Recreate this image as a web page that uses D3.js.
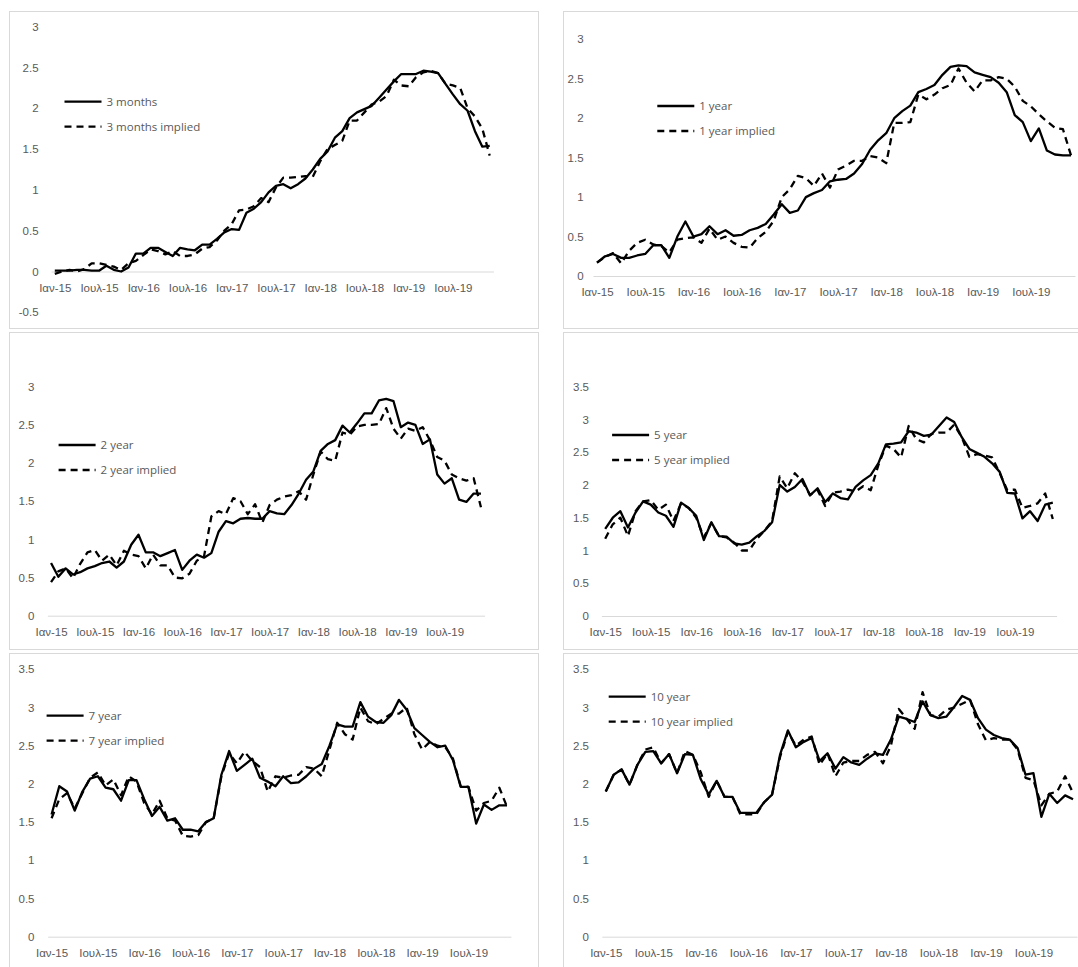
<!DOCTYPE html>
<meta charset="utf-8">
<style>
body {
  background: #fff;
  margin: 0;
  padding: 0;
}
svg {
  display: block;
  font-family: 'Open Sans', sans-serif;
}
.frame {
  fill: #fff;
  stroke: #d9d9d9;
  stroke-width: 1px;
}
.axis text, .legend text {
  fill: #595959;
  font-size: 11.5px;
}
.axis .domain {
  stroke: #d9d9d9;
  stroke-width: 1px;
}
.series {
  fill: none;
  stroke: #000;
  stroke-width: 2.3px;
  stroke-linejoin: round;
}
.implied {
  stroke-dasharray: 7,5;
}
</style>
<body>
<script src="https://d3js.org/d3.v7.min.js"></script>
<script>
// monthly observations, Jan 2015 .. Dec 2019
var xTickLabels = ["Ιαν-15", "Ιουλ-15", "Ιαν-16", "Ιουλ-16", "Ιαν-17",
                   "Ιουλ-17", "Ιαν-18", "Ιουλ-18", "Ιαν-19", "Ιουλ-19"];

var m3 = [0.01,0.01,0.01,0.02,0.02,0.01,0.01,0.07,0.02,0.00,
  0.05,0.22,0.22,0.29,0.29,0.24,0.19,0.29,0.27,0.26,
  0.33,0.33,0.40,0.48,0.52,0.51,0.72,0.77,0.85,0.97,
  1.05,1.07,1.02,1.07,1.14,1.25,1.38,1.47,1.64,1.72,
  1.88,1.95,1.99,2.03,2.13,2.23,2.33,2.42,2.42,2.42,
  2.46,2.45,2.43,2.30,2.17,2.05,1.97,1.72,1.53,1.54];
var m3Implied = [-0.03,0.00,0.02,0.00,0.03,0.10,0.10,0.08,0.06,0.02,
  0.10,0.13,0.20,0.27,0.25,0.21,0.25,0.19,0.19,0.21,
  0.28,0.30,0.38,0.50,0.58,0.75,0.76,0.80,0.90,0.85,
  1.03,1.15,1.15,1.16,1.17,1.16,1.35,1.50,1.55,1.60,
  1.85,1.85,1.95,2.05,2.08,2.15,2.35,2.28,2.27,2.38,
  2.44,2.46,2.43,2.30,2.28,2.25,2.00,1.90,1.75,1.42];

var y1 = [0.17,0.25,0.28,0.23,0.23,0.26,0.28,0.39,0.39,0.23,
  0.50,0.69,0.50,0.53,0.63,0.53,0.58,0.51,0.52,0.58,
  0.61,0.66,0.78,0.91,0.80,0.83,1.00,1.05,1.09,1.20,
  1.22,1.23,1.30,1.42,1.60,1.72,1.81,2.00,2.09,2.16,
  2.33,2.37,2.42,2.55,2.65,2.67,2.66,2.58,2.55,2.52,
  2.45,2.33,2.04,1.95,1.71,1.87,1.59,1.54,1.53,1.53];
var y1Implied = [0.17,0.24,0.29,0.16,0.32,0.42,0.46,0.40,0.38,0.30,
  0.46,0.48,0.49,0.42,0.60,0.46,0.50,0.42,0.37,0.36,
  0.48,0.56,0.70,1.00,1.10,1.27,1.24,1.14,1.30,1.12,
  1.35,1.40,1.46,1.46,1.52,1.50,1.43,1.94,1.94,1.95,
  2.30,2.24,2.30,2.38,2.42,2.63,2.45,2.34,2.48,2.48,
  2.52,2.50,2.40,2.22,2.15,2.05,1.96,1.88,1.86,1.53];

var y2 = [0.69,0.51,0.62,0.54,0.57,0.62,0.65,0.69,0.71,0.63,
  0.71,0.93,1.06,0.83,0.83,0.78,0.82,0.86,0.60,0.72,
  0.80,0.76,0.82,1.10,1.24,1.21,1.27,1.28,1.27,1.27,
  1.37,1.34,1.33,1.45,1.60,1.78,1.89,2.16,2.25,2.30,
  2.49,2.40,2.52,2.65,2.65,2.82,2.84,2.81,2.47,2.53,
  2.50,2.25,2.31,1.85,1.73,1.80,1.52,1.49,1.60,1.60];
var y2Implied = [0.44,0.58,0.62,0.49,0.68,0.83,0.86,0.72,0.80,0.66,
  0.85,0.80,0.78,0.62,0.80,0.66,0.66,0.50,0.49,0.55,
  0.72,0.78,1.30,1.37,1.33,1.54,1.50,1.33,1.46,1.22,
  1.45,1.52,1.56,1.58,1.63,1.52,1.85,2.15,2.05,2.03,
  2.40,2.37,2.48,2.50,2.50,2.51,2.72,2.45,2.32,2.45,
  2.42,2.47,2.30,2.08,2.03,1.85,1.80,1.77,1.80,1.42];

var y5 = [1.33,1.50,1.60,1.35,1.58,1.75,1.70,1.58,1.53,1.36,
  1.73,1.65,1.53,1.16,1.43,1.22,1.21,1.11,1.09,1.12,
  1.22,1.30,1.43,2.00,1.90,1.97,2.09,1.84,1.95,1.74,
  1.87,1.80,1.78,1.97,2.07,2.15,2.33,2.62,2.63,2.65,
  2.82,2.80,2.75,2.77,2.90,3.03,2.96,2.73,2.55,2.49,
  2.43,2.33,2.20,1.88,1.87,1.49,1.60,1.45,1.70,1.73];
var y5Implied = [1.18,1.40,1.50,1.22,1.60,1.75,1.77,1.62,1.70,1.45,
  1.72,1.65,1.50,1.20,1.42,1.22,1.20,1.12,1.00,1.00,
  1.18,1.30,1.45,2.13,1.95,2.18,2.05,1.85,1.92,1.68,
  1.88,1.90,1.93,1.90,1.98,1.92,2.30,2.60,2.55,2.42,
  2.90,2.70,2.65,2.78,2.80,2.80,2.92,2.73,2.43,2.47,
  2.45,2.42,2.18,1.92,1.93,1.65,1.68,1.72,1.87,1.48];

var y7 = [1.60,1.97,1.90,1.65,1.90,2.07,2.10,1.95,1.93,1.78,
  2.05,2.05,1.80,1.58,1.70,1.52,1.55,1.40,1.40,1.38,
  1.50,1.55,2.12,2.43,2.17,2.25,2.33,2.08,2.03,1.97,
  2.10,2.01,2.02,2.10,2.20,2.26,2.50,2.78,2.75,2.75,
  3.07,2.88,2.81,2.80,2.90,3.10,2.97,2.73,2.64,2.55,
  2.48,2.50,2.31,1.96,1.96,1.48,1.73,1.66,1.72,1.72];
var y7Implied = [1.55,1.80,1.88,1.68,1.88,2.08,2.15,1.98,2.06,1.85,
  2.10,2.03,1.75,1.60,1.78,1.55,1.52,1.32,1.31,1.33,
  1.50,1.55,2.10,2.40,2.27,2.42,2.30,2.22,1.90,2.10,
  2.08,2.11,2.12,2.22,2.20,2.10,2.45,2.80,2.65,2.58,
  3.00,2.82,2.78,2.85,2.92,2.92,3.00,2.65,2.45,2.55,
  2.50,2.48,2.33,1.97,1.96,1.65,1.75,1.78,1.95,1.70];

var y10 = [1.90,2.12,2.19,1.99,2.25,2.42,2.43,2.27,2.39,2.14,
  2.39,2.38,2.06,1.86,2.04,1.83,1.83,1.62,1.62,1.62,
  1.76,1.86,2.38,2.70,2.48,2.55,2.60,2.30,2.40,2.20,
  2.35,2.28,2.25,2.33,2.40,2.38,2.58,2.88,2.85,2.81,
  3.08,2.90,2.86,2.88,3.01,3.15,3.10,2.86,2.71,2.64,
  2.60,2.58,2.47,2.12,2.14,1.57,1.87,1.75,1.85,1.80];
var y10Implied = [1.90,2.12,2.19,1.99,2.25,2.45,2.48,2.27,2.39,2.14,
  2.43,2.38,2.15,1.83,2.04,1.83,1.83,1.60,1.60,1.60,
  1.76,1.86,2.35,2.68,2.50,2.58,2.62,2.25,2.40,2.10,
  2.28,2.30,2.30,2.38,2.42,2.27,2.50,2.98,2.85,2.72,
  3.20,2.90,2.88,2.97,3.00,3.05,3.10,2.78,2.57,2.60,
  2.58,2.58,2.45,2.08,2.05,1.72,1.87,1.90,2.10,1.88];

var width = 1078,
    height = 967;

var svg = d3.select("body").append("svg")
    .attr("width", width)
    .attr("height", height);

// each pasted excel chart: frame, plot extent, label column, legend spot
var panels = [
  {label: "3 months", actual: m3, implied: m3Implied, yMin: -0.5, yMax: 3,
   frame: [9.5, 11.5, 529, 317], xr: [51.1, 493.4], yr: [312.3, 26.7], yLab: 38.6, leg: [64.5, 101.7]},
  {label: "1 year", actual: y1, implied: y1Implied, yMin: 0, yMax: 3,
   frame: [563.5, 11.5, 540, 317], xr: [593, 1075], yr: [276, 39.3], yLab: 583.6, leg: [657.3, 106]},
  {label: "2 year", actual: y2, implied: y2Implied, yMin: 0, yMax: 3,
   frame: [9.5, 332.5, 529, 317], xr: [47.4, 484.6], yr: [615.7, 386.7], yLab: 34.5, leg: [58.6, 445]},
  {label: "5 year", actual: y5, implied: y5Implied, yMin: 0, yMax: 3.5,
   frame: [563.5, 332.5, 540, 317], xr: [601.4, 1056.6], yr: [616, 386.7], yLab: 589, leg: [612.1, 435]},
  {label: "7 year", actual: y7, implied: y7Implied, yMin: 0, yMax: 3.5,
   frame: [9.5, 653.5, 529, 340], xr: [47.7, 510.9], yr: [936.7, 669.3], yLab: 34.5, leg: [46.6, 715.7]},
  {label: "10 year", actual: y10, implied: y10Implied, yMin: 0, yMax: 3.5,
   frame: [563.5, 653.5, 540, 340], xr: [601.8, 1077], yr: [936.7, 669.3], yLab: 589, leg: [608.7, 696.7]}
];

panels.forEach(drawPanel);

function drawPanel(p) {
  var g = svg.append("g");

  g.append("rect")
      .attr("class", "frame")
      .attr("x", p.frame[0])
      .attr("y", p.frame[1])
      .attr("width", p.frame[2])
      .attr("height", p.frame[3]);

  var n = p.actual.length;
  var x = d3.scaleLinear().domain([-0.5, n - 0.5]).range(p.xr);
  var y = d3.scaleLinear().domain([p.yMin, p.yMax]).range(p.yr);

  var yTicks = d3.range(p.yMin, p.yMax + 0.01, 0.5);

  g.append("g")
      .attr("class", "axis")
      .attr("transform", "translate(" + p.yLab + ",0)")
      .call(d3.axisLeft(y).tickValues(yTicks).tickSize(0).tickPadding(0)
          .tickFormat(function(d) { return String(+d.toFixed(1)); }))
      .call(function(a) { a.select(".domain").remove(); });

  // category axis sits on the zero line
  g.append("g")
      .attr("class", "axis")
      .attr("transform", "translate(0," + y(0) + ")")
      .call(d3.axisBottom(x)
          .tickValues(xTickLabels.map(function(d, i) { return i * 6; }))
          .tickSize(0).tickSizeOuter(0).tickPadding(12)
          .tickFormat(function(d) { return xTickLabels[d / 6]; }));

  var line = d3.line()
      .x(function(d, i) { return x(i); })
      .y(function(d) { return y(d); });

  g.append("path")
      .datum(p.implied)
      .attr("class", "series implied")
      .attr("d", line);

  g.append("path")
      .datum(p.actual)
      .attr("class", "series")
      .attr("d", line);

  var legend = g.append("g")
      .attr("class", "legend")
      .attr("transform", "translate(" + p.leg[0] + "," + p.leg[1] + ")");

  [p.label, p.label + " implied"].forEach(function(t, k) {
    legend.append("line")
        .attr("class", k ? "series implied" : "series")
        .attr("x1", 0).attr("x2", 37)
        .attr("y1", k * 25).attr("y2", k * 25);
    legend.append("text")
        .attr("x", 42)
        .attr("y", k * 25)
        .attr("dy", "0.35em")
        .text(t);
  });
}
</script>
